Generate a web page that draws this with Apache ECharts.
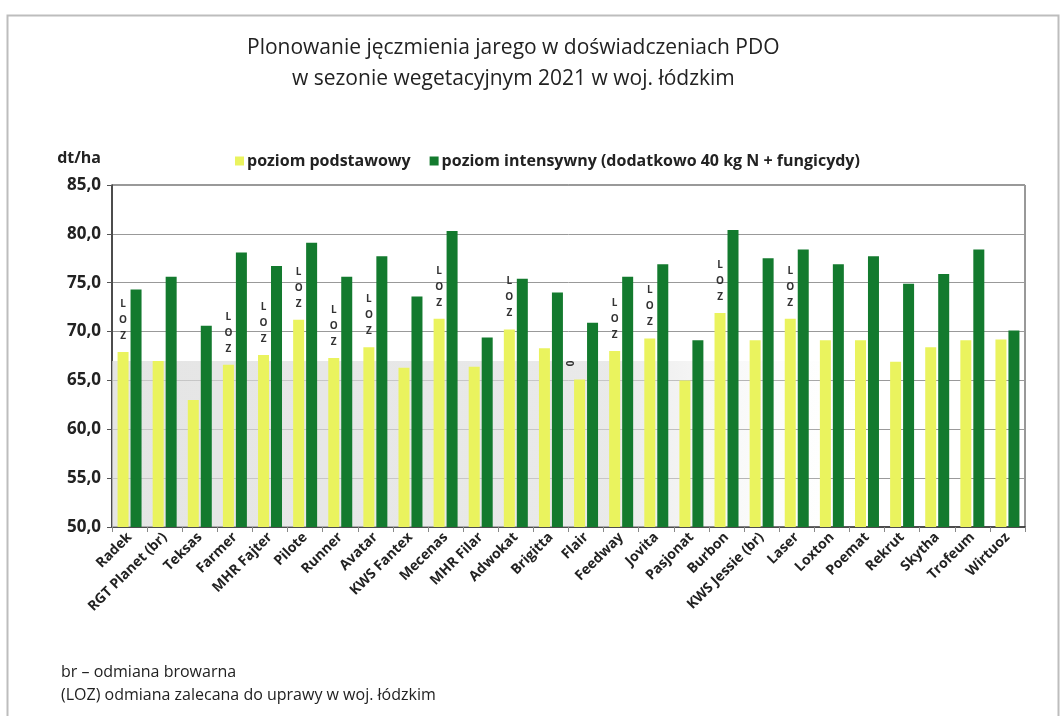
<!DOCTYPE html>
<html>
<head>
    <meta charset="utf-8">
    <style>
        html, body { margin: 0; padding: 0; background: #fff; }
        #chart { width: 1061px; height: 716px; }
    </style>
    <script src="https://cdn.jsdelivr.net/npm/echarts@6/dist/echarts.min.js"></script>
</head>
<body>
<div id="chart"></div>
<script>
  // odmiany
  var odmiany = ['Radek', 'RGT Planet (br)', 'Teksas', 'Farmer', 'MHR Fajter', 'Pilote', 'Runner', 'Avatar',
    'KWS Fantex', 'Mecenas', 'MHR Filar', 'Adwokat', 'Brigitta', 'Flair', 'Feedway', 'Jovita', 'Pasjonat',
    'Burbon', 'KWS Jessie (br)', 'Laser', 'Loxton', 'Poemat', 'Rekrut', 'Skytha', 'Trofeum', 'Wirtuoz'];
  // poziom podstawowy
  var podstawowy = [67.9, 67.0, 63.0, 66.6, 67.6, 71.2, 67.3, 68.4, 66.3, 71.3, 66.4, 70.2, 68.3,
    65.1, 68.0, 69.3, 65.0, 71.9, 69.1, 71.3, 69.1, 69.1, 66.9, 68.4, 69.1, 69.2];
  // poziom intensywny
  var intensywny = [74.3, 75.6, 70.6, 78.1, 76.7, 79.1, 75.6, 77.7, 73.6, 80.3, 69.4, 75.4, 74.0,
    70.9, 75.6, 76.9, 69.1, 80.4, 77.5, 78.4, 76.9, 77.7, 74.9, 75.9, 78.4, 70.1];
  // oznaczenia nad słupkami
  var oznaczenia = ['LOZ', '', '', 'LOZ', 'LOZ', 'LOZ', 'LOZ', 'LOZ', '', 'LOZ', '', 'LOZ', '',
    '0', 'LOZ', 'LOZ', '', 'LOZ', '', 'LOZ', '', '', '', '', '', ''];
  var yTicks = [50, 55, 60, 65, 70, 75, 80, 85];

  var font = '"Open Sans", "DejaVu Sans", sans-serif';

  var daneP = podstawowy.map(function (v, i) {
    var o = oznaczenia[i];
    if (!o) return v;
    if (o === '0') {
      return { value: v, label: { show: true, formatter: '0', rotate: 90, distance: 16 } };
    }
    return { value: v, label: { show: true, formatter: o.split('').join('\n') } };
  });

  var myChart = echarts.init(document.getElementById('chart'));
  var option = {
    backgroundColor: '#fff',
    animation: false,
    textStyle: { fontFamily: font },
    title: [
      { text: 'Plonowanie jęczmienia jarego w doświadczeniach PDO', left: 247, top: 38, padding: 0,
        textStyle: { fontSize: 21, fontWeight: 'normal', color: '#222', fontFamily: font } },
      { text: 'w sezonie wegetacyjnym 2021 w woj. łódzkim', left: 292, top: 69, padding: 0,
        textStyle: { fontSize: 21, fontWeight: 'normal', color: '#222', fontFamily: font } },
      { text: 'br – odmiana browarna', left: 61, top: 664, padding: 0,
        textStyle: { fontSize: 16, fontWeight: 'normal', color: '#222', fontFamily: font } },
      { text: '(LOZ) odmiana zalecana do uprawy w woj. łódzkim', left: 61, top: 687, padding: 0,
        textStyle: { fontSize: 16, fontWeight: 'normal', color: '#222', fontFamily: font } }
    ],
    legend: {
      left: 230, top: 148,
      itemWidth: 9, itemHeight: 9, itemGap: 19,
      textStyle: { fontSize: 16, fontWeight: 'bold', color: '#222', fontFamily: font, padding: [0, 0, 0, -2] },
      data: [
        { name: 'poziom podstawowy', icon: 'rect' },
        { name: 'poziom intensywny (dodatkowo 40 kg N + fungicydy)', icon: 'rect' }
      ]
    },
    graphic: [{
      type: 'rect', left: 5, top: 13, silent: true,
      shape: { width: 1051, height: 720 },
      style: { fill: 'none', stroke: '#bdbdbd', lineWidth: 2 }
    }],
    grid: { left: 112, right: 36, top: 185, bottom: 189, show: true, borderColor: '#333', borderWidth: 1 },
    xAxis: {
      type: 'category',
      data: odmiany,
      axisLine: { lineStyle: { color: '#333', width: 1.5 } },
      axisTick: { show: true, alignWithLabel: false, length: 5, lineStyle: { color: '#888' } },
      axisLabel: { interval: 0, rotate: 45, fontSize: 14, fontWeight: 'bold', color: '#222', margin: 8, fontFamily: font }
    },
    yAxis: {
      type: 'value',
      min: yTicks[0], max: yTicks[yTicks.length - 1], interval: 5,
      name: 'dt/ha', nameLocation: 'end', nameGap: 19,
      nameTextStyle: { fontSize: 16, fontWeight: 'bold', color: '#222', align: 'right', padding: [0, 11, 0, 0], fontFamily: font },
      axisLine: { show: true, lineStyle: { color: '#333', width: 1.5 } },
      axisTick: { show: true, length: 5, lineStyle: { color: '#555' } },
      splitLine: { lineStyle: { color: '#999', width: 1 } },
      axisLabel: {
        fontSize: 17, fontWeight: 'bold', color: '#222', margin: 11, fontFamily: font,
        formatter: function (v) { return v.toFixed(1).replace('.', ','); }
      }
    },
    series: [
      {
        name: 'poziom podstawowy',
        type: 'bar',
        data: daneP,
        barWidth: 11,
        barGap: '18%',
        itemStyle: { color: '#eaf35e' },
        label: { show: false, position: 'top', distance: 8, fontSize: 10, fontWeight: 'bold',
          lineHeight: 16, color: '#333', fontFamily: font },
        markArea: {
          silent: true,
          itemStyle: {
            color: new echarts.graphic.LinearGradient(0, 0, 1, 0, [
              { offset: 0, color: 'rgba(218,218,218,0.7)' },
              { offset: 0.55, color: 'rgba(222,222,222,0.65)' },
              { offset: 0.84, color: 'rgba(255,255,255,0)' }
            ])
          },
          data: [[{ yAxis: 50 }, { yAxis: 67 }]]
        },
        z: 2
      },
      {
        name: 'poziom intensywny (dodatkowo 40 kg N + fungicydy)',
        type: 'bar',
        data: intensywny,
        barWidth: 11,
        itemStyle: { color: '#137a2e' },
        z: 2
      }
    ]
  };
  myChart.setOption(option);
</script>
</body>
</html>
